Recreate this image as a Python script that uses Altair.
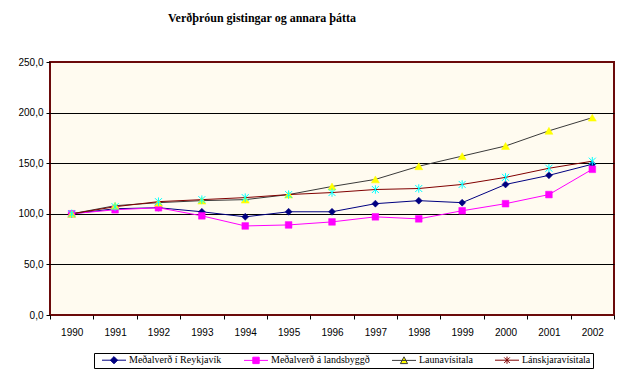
import altair as alt
import pandas as pd

years = [str(y) for y in range(1990, 2003)]
series_names = ["Meðalverð í Reykjavík", "Meðalverð á landsbyggð", "Launavísitala", "Lánskjaravísitala"]
reykjavik = [100, 105, 106, 102, 97, 102, 102, 110, 113, 111, 129, 138, 149]
landsbyggd = [100, 104, 106, 98, 88, 89, 92, 97, 95, 103, 110, 119, 144]
launavisitala = [100, 108, 111, 113, 114, 119, 127, 134, 147, 157, 167, 182, 195]
lanskjaravisitala = [100, 107, 112, 114, 116, 119, 121, 124, 125, 129, 136, 145, 152]
y_ticks = [0, 50, 100, 150, 200, 250]

values = [reykjavik, landsbyggd, launavisitala, lanskjaravisitala]
rows = []
for name, vals in zip(series_names, values):
    for yr, v in zip(years, vals):
        rows.append({"year": yr, "series": name, "value": v})
df = pd.DataFrame(rows)

line_colors = ["#000080", "#FF00FF", "#3a3a3a", "#800000"]
marker_fill = ["#000080", "#FF00FF", "#FFFF00", "#00FFFF"]
star_path = "M-1,-1L1,1M-1,1L1,-1M0,-1.2L0,1.2"
marker_shapes = ["diamond", "square", "triangle-up", star_path]
marker_sizes = [49, 45, 64, 49]
marker_filled = [True, True, True, False]

legend_shapes = [
    "M-3,0L3,0M0,-0.9L0.9,0L0,0.9L-0.9,0Z",
    "M-3,0L3,0M-0.8,-0.8L0.8,-0.8L0.8,0.8L-0.8,0.8Z",
    "M-3,0L3,0M0,-0.9L0.9,0.8L-0.9,0.8Z",
    "M-3,0L3,0M-0.7,-0.7L0.7,0.7M-0.7,0.7L0.7,-0.7M0,-0.9L0,0.9",
]

x_enc = alt.X("year:N", scale=alt.Scale(paddingInner=0, paddingOuter=0),
              axis=alt.Axis(title=None, labelAngle=0, tickBand="extent", domain=False,
                            tickColor="black", tickSize=4, labelPadding=8,
                            labelFont="Liberation Sans", labelFontSize=10, labelColor="black",
                            grid=False))
y_enc = alt.Y("value:Q", scale=alt.Scale(domain=[0, 250], nice=False),
              axis=alt.Axis(title=None, values=y_ticks, domain=False, tickColor="black", tickSize=4,
                            labelPadding=3, labelFont="Liberation Sans", labelFontSize=10,
                            labelColor="black", gridColor="black", gridWidth=1,
                            gridOpacity=alt.condition("datum.value == 0 || datum.value == 250",
                                                      alt.value(0), alt.value(1)),
                            labelExpr="replace(format(datum.value, '.1f'), '.', ',')"))

base = alt.Chart(df)
leg = alt.Legend(title=" ", titleOrient="left", titlePadding=13, titleFontSize=10,
                 labelFont="Liberation Serif", labelFontSize=10, labelColor="black")

legend_layer = base.mark_point(filled=True, size=64, strokeWidth=1, opacity=0).encode(
    x=x_enc, y=y_enc,
    stroke=alt.Stroke("series:N", scale=alt.Scale(domain=series_names, range=line_colors), legend=leg),
    fill=alt.Fill("series:N", scale=alt.Scale(domain=series_names, range=marker_fill), legend=leg),
    shape=alt.Shape("series:N", scale=alt.Scale(domain=series_names, range=legend_shapes), legend=leg),
)

lines = base.mark_line(strokeWidth=1).encode(
    x="year:N", y="value:Q",
    stroke=alt.Stroke("series:N", legend=leg),
    order=alt.Order("year:N"),
)

point_layers = []
for name, shp, fc, sz, filled in zip(series_names, marker_shapes, marker_fill, marker_sizes, marker_filled):
    if filled:
        mk = base.transform_filter(alt.datum.series == name).mark_point(
            shape=shp, filled=True, fill=fc, stroke=fc, strokeWidth=0.5, size=sz, opacity=1)
    else:
        mk = base.transform_filter(alt.datum.series == name).mark_point(
            shape=shp, filled=False, stroke=fc, strokeWidth=1, size=sz, opacity=1)
    point_layers.append(mk.encode(x="year:N", y="value:Q"))

chart = alt.layer(legend_layer, lines, *point_layers).properties(
    width=564, height=253,
    autosize=alt.AutoSizeParams(type="none"),
    padding={"left": 42, "top": 54, "right": 7, "bottom": 61},
    title=alt.TitleParams("Verðþróun gistingar og annara þátta", font="Liberation Serif",
                          fontSize=12, fontWeight="bold", color="black", anchor="middle",
                          dx=-70, offset=32),
).configure_view(
    fill="#FFFBF0", stroke="#6b0a0a", strokeWidth=2, strokeOpacity=1,
).configure_legend(
    orient="none", legendX=44, legendY=291, direction="horizontal", columns=4,
    strokeColor="black", padding=2, columnPadding=20,
    labelFont="Liberation Serif", labelFontSize=10, labelColor="black",
    symbolSize=64, symbolStrokeWidth=1, labelOffset=10, symbolOpacity=1,
)

chart.save("out.html", embed_options={"renderer": "svg", "actions": False})
